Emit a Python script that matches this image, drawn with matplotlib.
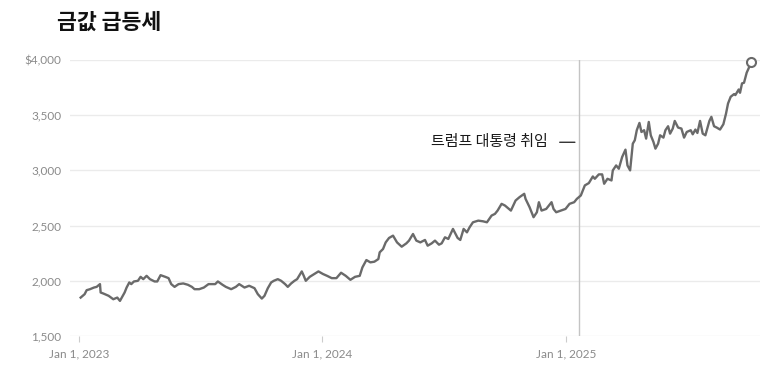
import matplotlib
matplotlib.use("Agg")
import matplotlib.pyplot as plt
import matplotlib.dates as mdates
import numpy as np
import pandas as pd

dates = [
    "2023-01-03", "2023-01-09", "2023-01-12", "2023-01-17", "2023-01-23", "2023-01-27",
    "2023-02-01", "2023-02-02", "2023-02-06", "2023-02-14", "2023-02-21", "2023-02-27",
    "2023-03-03", "2023-03-10", "2023-03-13", "2023-03-17", "2023-03-20", "2023-03-24",
    "2023-03-30", "2023-04-03", "2023-04-07", "2023-04-12", "2023-04-17", "2023-04-24",
    "2023-04-28", "2023-05-03", "2023-05-10", "2023-05-15", "2023-05-19", "2023-05-24",
    "2023-05-30", "2023-06-06", "2023-06-13", "2023-06-19", "2023-06-23", "2023-06-30",
    "2023-07-07", "2023-07-14", "2023-07-24", "2023-07-28", "2023-08-04", "2023-08-09",
    "2023-08-17", "2023-08-24", "2023-08-29", "2023-09-06", "2023-09-13", "2023-09-21",
    "2023-09-26", "2023-10-02", "2023-10-06", "2023-10-11", "2023-10-16", "2023-10-20",
    "2023-10-26", "2023-10-31", "2023-11-06", "2023-11-10", "2023-11-15", "2023-11-20",
    "2023-11-24", "2023-12-01", "2023-12-04", "2023-12-07", "2023-12-13", "2023-12-18",
    "2023-12-26", "2024-01-02", "2024-01-08", "2024-01-15", "2024-01-22", "2024-01-29",
    "2024-02-05", "2024-02-12", "2024-02-19", "2024-02-26", "2024-03-01", "2024-03-07",
    "2024-03-13", "2024-03-19", "2024-03-25", "2024-03-27", "2024-04-01", "2024-04-05",
    "2024-04-10", "2024-04-16", "2024-04-22", "2024-04-29", "2024-05-06", "2024-05-10",
    "2024-05-16", "2024-05-21", "2024-05-27", "2024-06-03", "2024-06-07", "2024-06-13",
    "2024-06-18", "2024-06-24", "2024-06-28", "2024-07-03", "2024-07-08", "2024-07-15",
    "2024-07-22", "2024-07-26", "2024-07-31", "2024-08-05", "2024-08-09", "2024-08-14",
    "2024-08-22", "2024-08-29", "2024-09-04", "2024-09-11", "2024-09-16", "2024-09-20",
    "2024-09-26", "2024-10-01", "2024-10-04", "2024-10-10", "2024-10-17", "2024-10-23",
    "2024-10-30", "2024-11-01", "2024-11-07", "2024-11-13", "2024-11-18", "2024-11-21",
    "2024-11-25", "2024-12-02", "2024-12-10", "2024-12-13", "2024-12-17", "2024-12-24",
    "2024-12-31", "2025-01-06", "2025-01-13", "2025-01-17", "2025-01-23", "2025-01-29",
    "2025-02-04", "2025-02-10", "2025-02-13", "2025-02-19", "2025-02-24", "2025-02-27",
    "2025-03-04", "2025-03-10", "2025-03-12", "2025-03-17", "2025-03-21", "2025-03-26",
    "2025-03-31", "2025-04-03", "2025-04-07", "2025-04-11", "2025-04-14", "2025-04-17",
    "2025-04-21", "2025-04-24", "2025-04-28", "2025-05-01", "2025-05-05", "2025-05-08",
    "2025-05-12", "2025-05-15", "2025-05-19", "2025-05-22", "2025-05-27", "2025-05-30",
    "2025-06-03", "2025-06-06", "2025-06-10", "2025-06-13", "2025-06-18", "2025-06-23",
    "2025-06-27", "2025-07-01", "2025-07-07", "2025-07-10", "2025-07-14", "2025-07-17",
    "2025-07-21", "2025-07-25", "2025-07-29", "2025-08-04", "2025-08-07", "2025-08-11",
    "2025-08-15", "2025-08-20", "2025-08-25", "2025-08-29", "2025-09-01", "2025-09-05",
    "2025-09-10", "2025-09-12", "2025-09-17", "2025-09-19", "2025-09-22", "2025-09-25",
    "2025-09-29", "2025-10-03", "2025-10-06",
]
prices = [
    1848, 1879, 1915, 1924, 1939, 1945,
    1970, 1894, 1885, 1864, 1833, 1848,
    1818, 1894, 1939, 1985, 1970, 1994,
    2000, 2036, 2015, 2045, 2015, 1994,
    1994, 2051, 2036, 2024, 1970, 1945,
    1970, 1976, 1964, 1945, 1924, 1924,
    1939, 1970, 1970, 1994, 1964, 1945,
    1924, 1945, 1970, 1939, 1955, 1933,
    1879, 1839, 1864, 1933, 1985, 2000,
    2015, 2000, 1970, 1945, 1976, 2000,
    2015, 2085, 2045, 2000, 2036, 2055,
    2085, 2061, 2045, 2024, 2024, 2073,
    2045, 2009, 2036, 2045, 2121, 2188,
    2167, 2173, 2197, 2258, 2288, 2348,
    2388, 2409, 2348, 2309, 2339, 2364,
    2424, 2364, 2348, 2370, 2318, 2339,
    2364, 2327, 2339, 2394, 2379, 2470,
    2388, 2370, 2470, 2439, 2485, 2530,
    2545, 2539, 2530, 2591, 2606, 2636,
    2697, 2682, 2667, 2636, 2727, 2758,
    2788, 2742, 2667, 2576, 2621, 2712,
    2636, 2651, 2712, 2651, 2621, 2636,
    2651, 2697, 2712, 2742, 2773, 2864,
    2885, 2945, 2924, 2964, 2964, 2879,
    2924, 2909, 3000, 3045, 3015, 3121,
    3188, 3045, 3000, 3242, 3273, 3364,
    3430, 3348, 3364, 3288, 3439, 3318,
    3258, 3197, 3242, 3318, 3297, 3364,
    3400, 3333, 3379, 3448, 3388, 3379,
    3297, 3348, 3364, 3327, 3370, 3339,
    3448, 3333, 3318, 3448, 3485, 3400,
    3388, 3370, 3418, 3515, 3606, 3667,
    3691, 3682, 3733, 3703, 3788, 3794,
    3885, 3939, 3985,
]

title = "금값 급등세"
event_label = "트럼프 대통령 취임"
event_date = "2025-01-20"
y_ticks = [1500, 2000, 2500, 3000, 3500, 4000]
y_tick_labels = ["1,500", "2,000", "2,500", "3,000", "3,500", "$4,000"]
x_ticks = ["2023-01-01", "2024-01-01", "2025-01-01"]
x_tick_labels = ["Jan 1, 2023", "Jan 1, 2024", "Jan 1, 2025"]

plt.rcParams['font.family'] = ['Lato', 'Noto Sans CJK KR', 'DejaVu Sans']

d = pd.to_datetime(dates)
ev = pd.Timestamp(event_date)

fig = plt.figure(figsize=(7.73, 3.69), dpi=100)
ax = fig.add_axes([70/773, 1 - 336/369, (760 - 70)/773, (336 - 60)/369])

ax.plot(d, prices, color="#6a6a6a", lw=1.7, solid_joinstyle="round", zorder=3)
ax.plot(d[-1:], prices[-1:], marker="o", ms=6.5, mfc="white", mec="#6a6a6a",
        mew=1.5, ls="none", clip_on=False, zorder=4)

ax.axvline(ev, color="#c4c4c4", lw=1.0, zorder=2)

ax.annotate(event_label, xy=(ev, 3255), xytext=(-31, 0), textcoords="offset pixels",
            ha="right", va="center", fontsize=10.8, color="#1a1a1a",
            family=['Noto Sans CJK KR', 'DejaVu Sans'],
            arrowprops=dict(arrowstyle="-", color="#1a1a1a", lw=0.9,
                            relpos=(1, 0.5), shrinkA=6.5, shrinkB=2.8))

ax.set_ylim(1500, 4000)
ax.set_xlim(pd.Timestamp("2022-12-18"), pd.Timestamp("2025-10-19"))
ax.set_yticks(y_ticks)
ax.set_yticklabels(y_tick_labels)
ax.set_xticks(pd.to_datetime(x_ticks))
ax.set_xticklabels(x_tick_labels)

ax.grid(axis="y", color="#ebebeb", lw=1.0)
ax.set_axisbelow(True)
for s in ax.spines.values():
    s.set_visible(False)

ax.tick_params(axis="y", length=0, pad=6, labelsize=8.5, labelcolor="#8a8a8a")
ax.tick_params(axis="x", length=4, width=0.8, color="#cccccc", pad=5,
               labelsize=8.5, labelcolor="#8a8a8a")

fig.text(57/773, 1 - 22/369, title, fontsize=15.6, fontweight="bold", color="#111111",
         ha="left", va="center", family=['Noto Sans CJK KR', 'DejaVu Sans'])

fig.savefig("out.png", dpi=100, facecolor="white")
